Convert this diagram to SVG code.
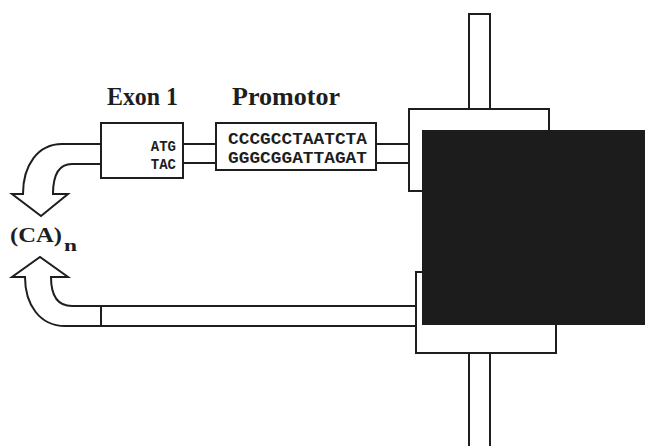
<svg xmlns="http://www.w3.org/2000/svg" width="645" height="446" viewBox="0 0 645 446">
<style>
.ln{stroke:#1e1e1e;stroke-width:2;fill:none}
.bx{stroke:#1e1e1e;stroke-width:2;fill:#fff}
.ttl{font-family:"Liberation Serif","Times New Roman",serif;font-weight:bold;fill:#1e1e1e}
.seq{font-family:"Liberation Mono","Courier New",monospace;font-weight:bold;font-size:16px;fill:#1e1e1e}
.seqs{font-family:"Liberation Mono","Courier New",monospace;font-weight:bold;font-size:14px;fill:#1e1e1e}
</style>
<rect width="645" height="446" fill="#fff"/>
<g id="connectors">
<line class="ln" x1="183" y1="144" x2="216" y2="144"/>
<line class="ln" x1="183" y1="163" x2="216" y2="163"/>
<line class="ln" x1="376" y1="144" x2="409" y2="144"/>
<line class="ln" x1="376" y1="163" x2="409" y2="163"/>
<path class="bx" d="M101,144 L62,144 C38,144 23,165 23,194 L12,194 L41,216 L68,194 L53,194 C53,176 58,164 72,164 L101,164"/>
<path class="bx" d="M101,326 L65,326 C40,326 25,305 25,277 L12,277 L40,257 L68,277 L51,277 C51,295 57,306 72,306 L101,306"/>
<path class="bx" d="M101,306 L416,306 L416,326 L101,326 Z"/>
</g>
<g id="bar-top"><rect class="bx" x="469" y="14" width="21" height="96"/></g>
<g id="bar-bottom"><rect class="bx" x="469" y="352" width="21" height="100"/></g>
<g id="box-top"><rect class="bx" x="409" y="109" width="140" height="82"/></g>
<g id="box-bottom"><rect class="bx" x="416" y="272" width="140" height="81"/></g>
<g id="black-panel"><rect x="422" y="130" width="230" height="195" fill="#1c1c1c"/></g>
<g id="exon1">
<text class="ttl" x="107" y="105" font-size="25" textLength="71" lengthAdjust="spacingAndGlyphs">Exon 1</text>
<rect class="bx" x="101" y="123" width="82" height="55"/>
<text class="seqs" x="176" y="151" text-anchor="end">ATG</text>
<text class="seqs" x="176" y="169" text-anchor="end">TAC</text>
</g>
<g id="promotor">
<text class="ttl" x="232" y="105" font-size="25" textLength="108" lengthAdjust="spacingAndGlyphs">Promotor</text>
<rect class="bx" x="216" y="123" width="160" height="47"/>
<text class="seq" x="228" y="144" textLength="139" lengthAdjust="spacingAndGlyphs">CCCGCCTAATCTA</text>
<text class="seq" x="228" y="163" textLength="139" lengthAdjust="spacingAndGlyphs">GGGCGGATTAGAT</text>
</g>
<g id="ca-label">
<text class="ttl" x="10" y="242" font-size="21" textLength="52" lengthAdjust="spacingAndGlyphs">(CA)</text>
<text class="ttl" x="64" y="251" font-size="17" textLength="13" lengthAdjust="spacingAndGlyphs">n</text>
</g>
</svg>
